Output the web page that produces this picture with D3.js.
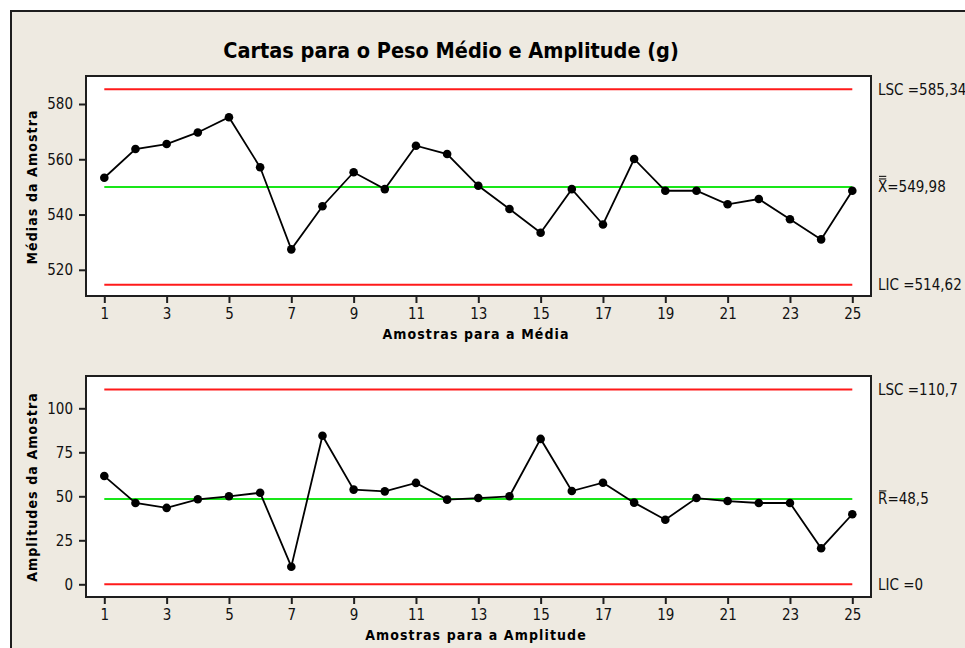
<!DOCTYPE html>
<html>
<head>
<meta charset="utf-8">
<script src="https://cdn.jsdelivr.net/npm/d3@7"></script>
<style>
  html, body { margin: 0; padding: 0; background: #ffffff; }
  svg { display: block; }
  text { font-family: 'DejaVu Sans Condensed', 'DejaVu Sans', sans-serif; font-stretch: condensed; }
</style>
</head>
<body>
<svg id="chart" width="965" height="648"></svg>
<script>
// Sample numbers (subgroups)
const amostras = [1,2,3,4,5,6,7,8,9,10,11,12,13,14,15,16,17,18,19,20,21,22,23,24,25];

// Subgroup means (g)
const medias = [553.3,563.7,565.5,569.7,575.2,557.1,527.4,543.0,555.3,549.2,564.9,561.9,550.4,
                542.0,533.4,549.2,536.4,560.1,548.6,548.6,543.7,545.6,538.3,531.0,548.6];

// Subgroup ranges (g)
const amplitudes = [61.5,46.2,43.4,48.3,50.0,52.0,10.0,84.4,53.8,52.8,57.6,48.1,49.0,
                    50.0,82.6,53.0,57.7,46.4,36.7,49.0,47.3,46.2,46.2,20.5,39.8];

// Control limits: [upper, centre, lower]
const limitesMedia = [585.34, 549.98, 514.62];
const limitesAmplitude = [110.7, 48.5, 0];

// Tick labels
const xTicks = [1,3,5,7,9,11,13,15,17,19,21,23,25];
const yTicksMedia = [520,540,560,580];
const yTicksAmplitude = [0,25,50,75,100];

const svg = d3.select("#chart");
const BG = "#EEEAE1";

// background panel with its dark border
svg.append("rect").attr("x", 0).attr("y", 0).attr("width", 965).attr("height", 648).attr("fill", "#ffffff");
svg.append("rect").attr("x", 11).attr("y", 11).attr("width", 1000).attr("height", 700)
   .attr("fill", BG).attr("stroke", "#1e1e1e").attr("stroke-width", 2);

svg.append("text")
   .attr("x", 451).attr("y", 58)
   .attr("text-anchor", "middle")
   .attr("font-size", 21.5).attr("font-weight", "bold").attr("fill", "#000")
   .text("Cartas para o Peso Médio e Amplitude (g)");

const x = d3.scaleLinear().domain([1, 25]).range([104.3, 852.3]);

function panel(opts) {
  const { top, bottom, yDomain, yRange, yTicks, values, limits, limitLabels, xTitle, yTitle, yTitleCenter } = opts;
  const left = 86, right = 871;
  const y = d3.scaleLinear().domain(yDomain).range(yRange);
  const g = svg.append("g");

  g.append("rect").attr("x", left).attr("y", top).attr("width", right - left).attr("height", bottom - top)
   .attr("fill", "#ffffff").attr("stroke", "#1e1e1e").attr("stroke-width", 2);

  // control limits and centre line
  const colors = ["#ff1a1a", "#19e619", "#ff1a1a"];
  limits.forEach((v, i) => {
    g.append("line")
     .attr("x1", x(amostras[0])).attr("x2", x(amostras[amostras.length - 1]))
     .attr("y1", y(v)).attr("y2", y(v))
     .attr("stroke", colors[i]).attr("stroke-width", 2);
  });

  // data line and markers
  const line = d3.line().x((d, i) => x(amostras[i])).y(d => y(d));
  g.append("path").datum(values).attr("d", line)
   .attr("fill", "none").attr("stroke", "#000").attr("stroke-width", 1.8);
  g.selectAll("circle.pt").data(values).enter().append("circle")
   .attr("class", "pt")
   .attr("cx", (d, i) => x(amostras[i])).attr("cy", d => y(d)).attr("r", 4.3).attr("fill", "#000");

  // axes
  const ax = g.append("g").attr("transform", `translate(0,${bottom})`)
    .call(d3.axisBottom(x).tickValues(xTicks).tickSize(7).tickPadding(5).tickFormat(d3.format("d")));
  const ay = g.append("g").attr("transform", `translate(${left},0)`)
    .call(d3.axisLeft(y).tickValues(yTicks).tickSize(7).tickPadding(6).tickFormat(d3.format("d")));
  [ax, ay].forEach(a => {
    a.select(".domain").remove();
    a.selectAll(".tick line").attr("stroke", "#1e1e1e").attr("stroke-width", 2);
    a.selectAll(".tick text").attr("fill", "#111").attr("font-size", 15)
     .style("font-family", "'DejaVu Sans Condensed','DejaVu Sans',sans-serif");
  });

  // axis titles
  g.append("text").attr("x", 476).attr("y", bottom + 43)
   .attr("text-anchor", "middle").attr("font-size", 14).attr("font-weight", "bold")
   .attr("letter-spacing", 1.1).attr("fill", "#000").text(xTitle);
  g.append("text")
   .attr("transform", `translate(37,${yTitleCenter}) rotate(-90)`)
   .attr("text-anchor", "middle").attr("font-size", 14).attr("font-weight", "bold")
   .attr("letter-spacing", 1.1).attr("fill", "#000").text(yTitle);

  // limit labels on the right
  limitLabels.forEach((lab, i) => {
    const yy = y(limits[i]);
    const t = g.append("text").attr("x", 878).attr("y", yy).attr("dy", "0.36em")
      .attr("font-size", 15).attr("fill", "#111");
    if (lab.bar) {
      t.append("tspan").text(lab.sym);
      t.append("tspan").text(lab.text);
      const w = t.node().getSubStringLength(0, 1);
      for (let k = 0; k < lab.bar; k++) {
        const by = yy - 8 - k * 2.6;
        g.append("line").attr("x1", 879).attr("x2", 878 + w - 1)
         .attr("y1", by).attr("y2", by).attr("stroke", "#111").attr("stroke-width", 1.1);
      }
    } else {
      t.text(lab.text);
    }
  });
}

panel({
  top: 76, bottom: 296,
  yDomain: [520, 580], yRange: [269.8, 104],
  yTicks: yTicksMedia, values: medias, limits: limitesMedia,
  limitLabels: [
    { text: "LSC =585,34" },
    { sym: "X", text: "=549,98", bar: 2 },
    { text: "LIC =514,62" }
  ],
  xTitle: "Amostras para a Média", yTitle: "Médias da Amostra", yTitleCenter: 187
});

panel({
  top: 376, bottom: 597,
  yDomain: [0, 100], yRange: [584.3, 408.3],
  yTicks: yTicksAmplitude, values: amplitudes, limits: limitesAmplitude,
  limitLabels: [
    { text: "LSC =110,7" },
    { sym: "R", text: "=48,5", bar: 1 },
    { text: "LIC =0" }
  ],
  xTitle: "Amostras para a Amplitude", yTitle: "Amplitudes da Amostra", yTitleCenter: 487
});
</script>
</body>
</html>
